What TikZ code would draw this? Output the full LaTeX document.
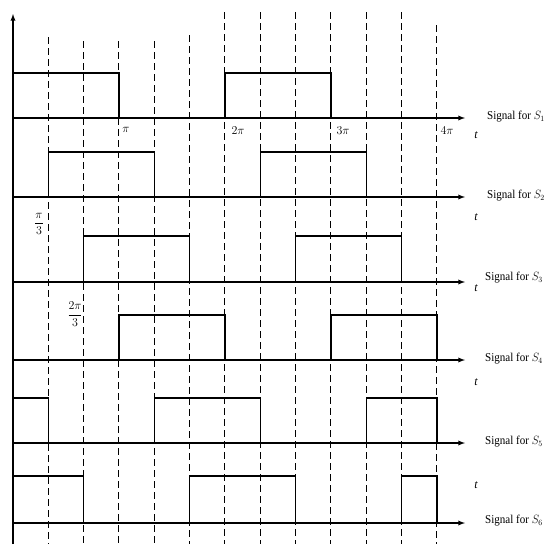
\documentclass[tikz,border=0pt]{standalone}
\usepackage{fontspec}
\setmainfont{Liberation Serif}
\begin{document}
\begin{tikzpicture}[x=1pt,y=-1pt,
  axisline/.style={line width=1.3pt},
  pulse/.style={line width=1.1pt},
  dashline/.style={line width=1pt,dash pattern=on 6.5pt off 4.5pt},
  sig/.style={anchor=west,font=\fontsize{12}{14}\selectfont,inner sep=0pt,xscale=0.92},
  tlab/.style={font=\itshape\fontsize{12}{14}\selectfont,inner sep=0pt},
  tick/.style={font=\fontsize{12}{14}\selectfont,inner sep=0pt}]
\useasboundingbox (0,0) rectangle (559,544);
\def\u{35.33}
% dashed lines
\foreach \k/\top in {1/37,2/41,3/41,4/41,5/35,6/12,7/12,8/12,9/12,10/12,11/12,12/25}
  \draw[dashline] (13+\k*\u,\top) -- (13+\k*\u,544);
% vertical axis
\draw[axisline,-latex] (13,544) -- (13,14);
% horizontal axes
\foreach \y/\n in {118/1,197/2,282/3,360/4,443/5,523/6}
  \draw[axisline,-latex] (13,\y) -- (465,\y);
% pulses
\def\hp#1#2#3#4{\draw[pulse] (13+#1*\u,#4) -- (13+#1*\u,#3) -- (13+#2*\u,#3) -- (13+#2*\u,#4);}
\hp{0}{3}{73}{118}\hp{6}{9}{73}{118}
\hp{1}{4}{152}{197}\hp{7}{10}{152}{197}
\hp{2}{5}{236}{282}\hp{8}{11}{236}{282}
\hp{3}{6}{315}{360}\hp{9}{12}{315}{360}
\hp{0}{1}{398}{443}\hp{4}{7}{398}{443}\hp{10}{12}{398}{443}
\hp{0}{2}{476}{523}\hp{5}{8}{476}{523}\hp{11}{12}{476}{523}
% labels
\node[sig] (l1) at (487,117) {Signal for $S_1$};
\node[sig] (l2) at (487,196) {Signal for $S_2$};
\node[sig] (l3) at (485,278) {Signal for $S_3$};
\node[sig] (l4) at (485,359) {Signal for $S_4$};
\node[sig] (l5) at (485,442) {Signal for $S_5$};
\node[sig] (l6) at (485,521) {Signal for $S_6$};
\node[tlab] (t1) at (476,135) {t};
\node[tlab] (t2) at (476,217) {t};
\node[tlab] (t3) at (476,288) {t};
\node[tlab] (t4) at (476,382) {t};
\node[tlab] (t5) at (476,485) {t};
\node[tick] (p1) at (126,130) {$\pi$};
\node[tick] (p2) at (238,131) {$2\pi$};
\node[tick] (p3) at (343,131) {$3\pi$};
\node[tick] (p4) at (447,131) {$4\pi$};
\node[tick] (f1) at (39,224) {$\displaystyle\frac{\pi}{3}$};
\node[tick] (f2) at (75,314) {$\displaystyle\frac{2\pi}{3}$};
\end{tikzpicture}
\end{document}
